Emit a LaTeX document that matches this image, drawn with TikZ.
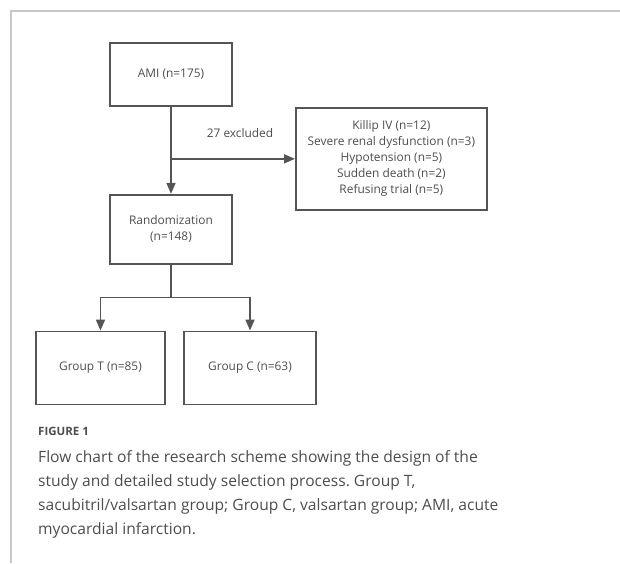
\documentclass[tikz,border=0pt]{standalone}
\usepackage{fontspec}
\setmainfont{Open Sans}
\usepackage{tikz}
\usetikzlibrary{positioning,arrows.meta}
\definecolor{boxgray}{HTML}{555555}
\definecolor{txtgray}{HTML}{4D4D4D}
\definecolor{framegray}{HTML}{C8C8C8}
\tikzset{block/.style={draw=boxgray,line width=1.7pt,minimum width=122pt,align=center,text=txtgray,font=\fontsize{11.9}{16}\selectfont},
         line/.style={draw=boxgray,line width=1.7pt}
}
\tikzstyle{arrow} = [line,-{Triangle[width=9pt,length=11pt]}]
\frenchspacing

\begin{document}
\begin{tikzpicture}[x=1pt,y=-1pt]
\useasboundingbox (0,0) rectangle (620,563);
\draw[framegray,line width=1.2pt] (11,563)--(11,11)--(620,11);

\node[block,minimum height=63pt] (ami) at (171,74.5) {AMI (n=175)};
\node[block,minimum height=69pt,below=87pt of ami] (rand) {Randomization\\(n=148)};
\coordinate[below=52pt of ami.south] (split);
\node[block,minimum width=191pt,minimum height=102pt,right=124pt of split] (excl) {Killip IV (n=12)\\Severe renal dysfunction (n=3)\\Hypotension (n=5)\\Sudden death (n=2)\\Refusing trial (n=5)};
\node[text=txtgray,font=\fontsize{11.9}{16}\selectfont] (exlabel) at ([shift={(69,-26)}]split) {27 excluded};
\coordinate[below=33pt of rand.south] (fork);
\node[block,minimum width=129pt,minimum height=73pt,below=33pt of fork,xshift=-70.5pt] (grpT) {Group T (n=85)};
\node[block,minimum width=132pt,minimum height=73pt,below=33pt of fork,xshift=79pt] (grpC) {Group C (n=63)};
\draw[arrow] (ami)--(rand);
\draw[arrow] (split)--(excl);
\draw[line] (rand)--(fork);
\draw[arrow] (fork)-|(grpT);
\draw[arrow] (fork)-|(grpC);

\node[anchor=north west,inner sep=0pt,text=txtgray,font=\fontsize{11.5}{12}\selectfont\bfseries] (figno) at (38,427) {FIGURE 1};
\node[below=15pt of figno.south west,anchor=north west,inner sep=0pt,align=left,text=txtgray,font=\fontsize{15.6}{24}\selectfont] (caption) {Flow chart of the research scheme showing the design of the\\study and detailed study selection process. Group T,\\sacubitril/valsartan group; Group C, valsartan group; AMI, acute\\myocardial infarction.};
\end{tikzpicture}
\end{document}
